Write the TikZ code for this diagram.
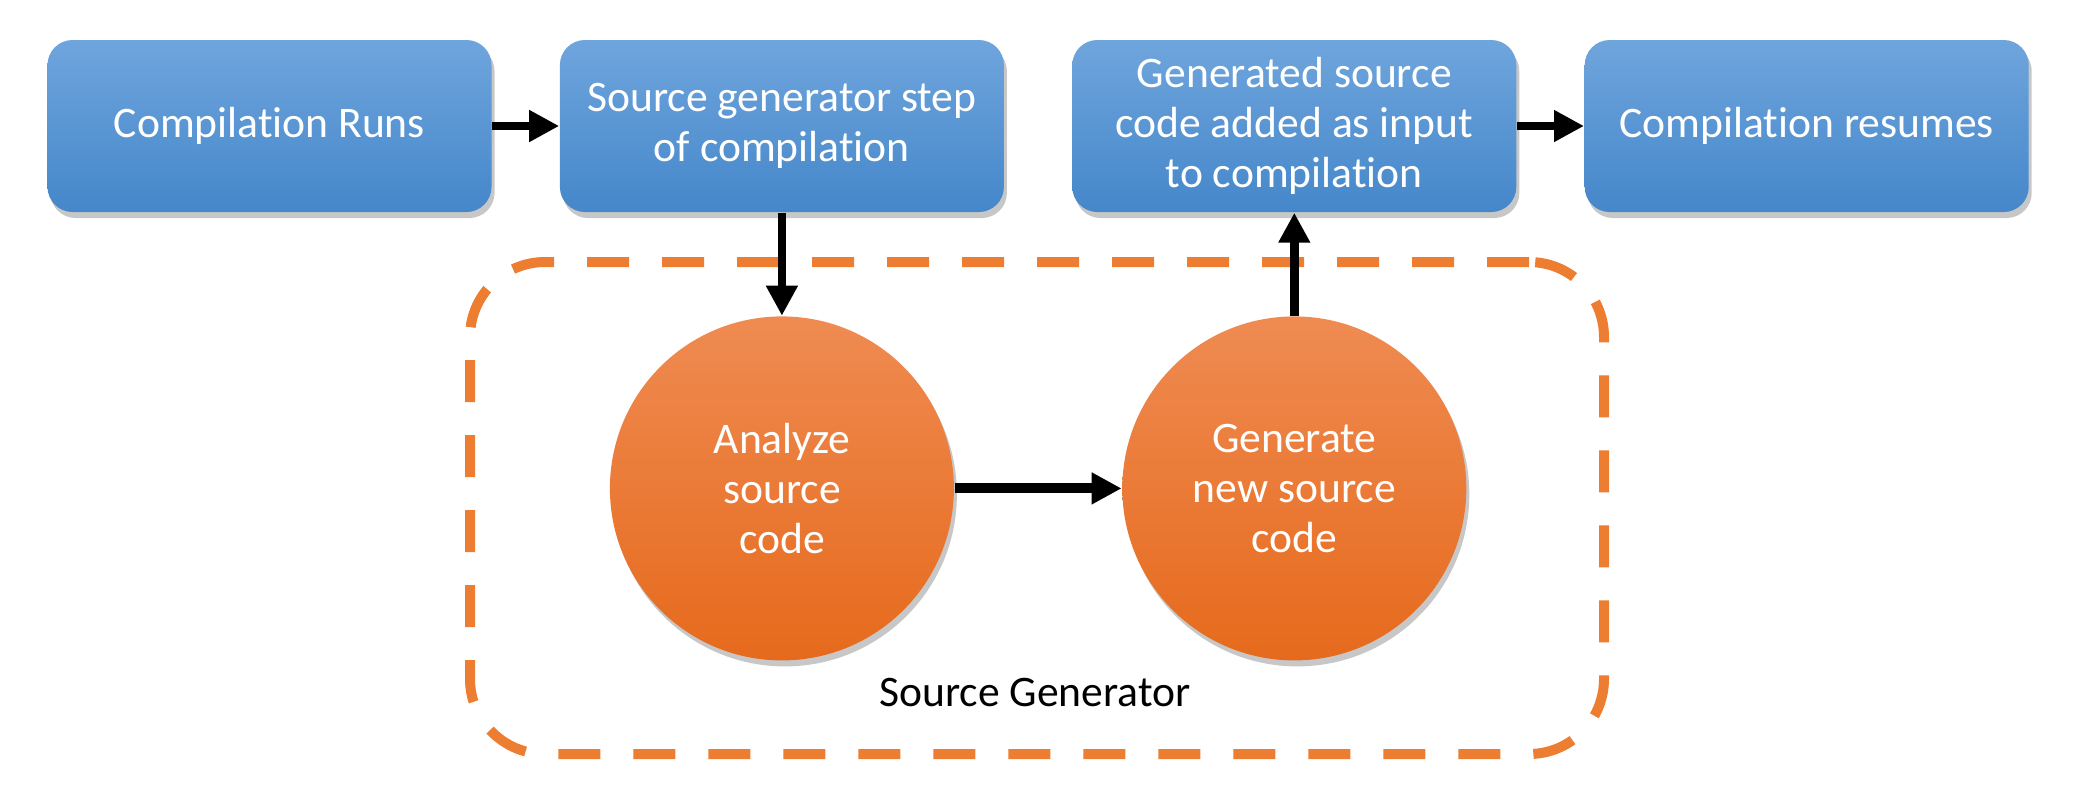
\documentclass[tikz,border=0pt]{standalone}
\usepackage{fontspec}
\setmainfont{Carlito}[Ligatures=NoCommon]
\usetikzlibrary{arrows.meta,positioning,shadows}
\definecolor{boxtop}{HTML}{6FA5DD}
\definecolor{boxbottom}{HTML}{4587CA}
\definecolor{circtop}{HTML}{EF8B52}
\definecolor{circbottom}{HTML}{E66A1C}
\definecolor{framecolor}{HTML}{ED7D31}
\tikzset{
    soft shadow/.style={drop shadow={shadow xshift=0.03cm,shadow yshift=-0.06cm,opacity=0.22,fill=black}},
    step box/.style={rectangle,rounded corners=0.25cm,minimum width=4.44cm,minimum height=1.72cm,
        top color=boxtop,bottom color=boxbottom,text=white,align=center,soft shadow},
    task circle/.style={circle,minimum size=3.44cm,inner sep=0pt,
        top color=circtop,bottom color=circbottom,text=white,align=center,soft shadow},
    generator frame/.style={rectangle,draw=framecolor,line width=0.1cm,rounded corners=0.75cm,
        dash pattern=on 0.42cm off 0.33cm,minimum width=11.34cm,minimum height=4.92cm},
    arr/.style={-{Triangle[length=0.3cm,width=0.3cm]},line width=0.085cm},
    thick arr/.style={arr,line width=0.1cm},
}
\tikzstyle{every node}=[font=\fontsize{12.4}{14.3}\selectfont]

\begin{document}
\begin{tikzpicture}
        \useasboundingbox (0,0) rectangle (20.77,-7.93);
        % outer flow
        \node[step box] (runs) at (2.695,-1.26) {Compilation Runs};
        \node[step box, right=0.67cm of runs] (genstep) {Source generator step\\of compilation};
        \node[step box, right=0.67cm of genstep] (added) {Generated source\\code added as input\\to compilation};
        \node[step box, right=0.67cm of added] (resumes) {Compilation resumes};

        % the generator itself
        \node[generator frame] (sourcegen) at (10.37,-5.08) {};
        \node (sglabel) at (10.35,-6.93) {Source Generator};
        \node[task circle, below=1.03cm of genstep] (analyze) {Analyze\\source\\code};
        \node[task circle, below=1.03cm of added] (generate) {Generate\\new source\\code};

        \draw[arr] (runs) -- (genstep);
        \draw[arr] (added) -- (resumes);
        \draw[arr] (genstep) -- (analyze);
        \draw[thick arr] (analyze) -- (generate);
        \draw[arr] (generate) -- (added);
    \end{tikzpicture}
\end{document}
